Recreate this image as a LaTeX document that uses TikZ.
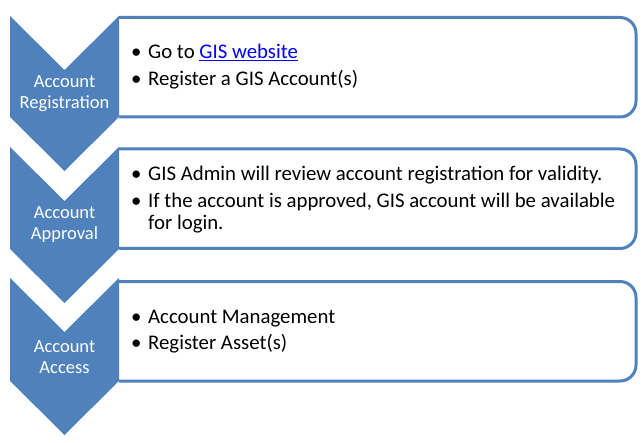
\documentclass[tikz,border=0pt]{standalone}
\usepackage{fontspec}
\setmainfont{Carlito}
\definecolor{chev}{HTML}{4F81BD}
\definecolor{linkblue}{HTML}{0000FF}
\tikzset{
  chevron/.style={fill=chev},
  panel/.style={draw=chev, line width=3pt, rounded corners=16pt},
  steplabel/.style={text=white, font=\fontsize{18.5}{21}\selectfont, align=center, inner sep=0pt},
  bullets/.style={anchor=base west, inner sep=0pt, font=\fontsize{20.8}{22}\selectfont},
}
\newcommand\bitem[1]{\par\hangindent=17pt\hangafter=1\noindent\makebox[17pt][l]{\textbullet}#1}
\newcommand\bulletblock[1]{\parbox[t]{500pt}{\raggedright\setlength{\parskip}{4.7pt}#1}}
\newcommand\chevshape[2]{\fill[chevron] (10,#1) -- (64.5,#1+54) -- (119,#1) -- (119,#2) -- (64.5,#2+54) -- (10,#2) -- cycle;}
\begin{document}
\begin{tikzpicture}[x=1pt,y=-1pt]
\useasboundingbox (0,0) rectangle (644,443);
% panels (left side hidden behind the chevrons)
\draw[panel] (119,17.5) -- (636,17.5) -- (636,117) -- (119,117);
\draw[panel] (119,149) -- (636,149) -- (636,248.5) -- (119,248.5);
\draw[panel] (119,281.5) -- (636,281.5) -- (636,381) -- (119,381);
% chevrons
\chevshape{16}{117}
\chevshape{147}{249}
\chevshape{278}{381}
% labels
\node[steplabel] (l1) at (64.5,93.5) {Account\\Registration};
\node[steplabel] (l2) at (64.5,225) {Account\\Approval};
\node[steplabel] (l3) at (64.5,357) {Account\\Access};
% bullet texts
\node[bullets] (t1) at (131,59) {\bulletblock{%
\bitem{Go to \textcolor{linkblue}{\underline{GIS website}}}
\bitem{Register a GIS Account(s)}}};
\node[bullets] (t2) at (131,181) {\bulletblock{%
\bitem{GIS Admin will review account registration for validity.}
\bitem{If the account is approved, GIS account will be available\newline for login.}}};
\node[bullets] (t3) at (131,323) {\bulletblock{%
\bitem{Account Management}
\bitem{Register Asset(s)}}};
\end{tikzpicture}
\end{document}
